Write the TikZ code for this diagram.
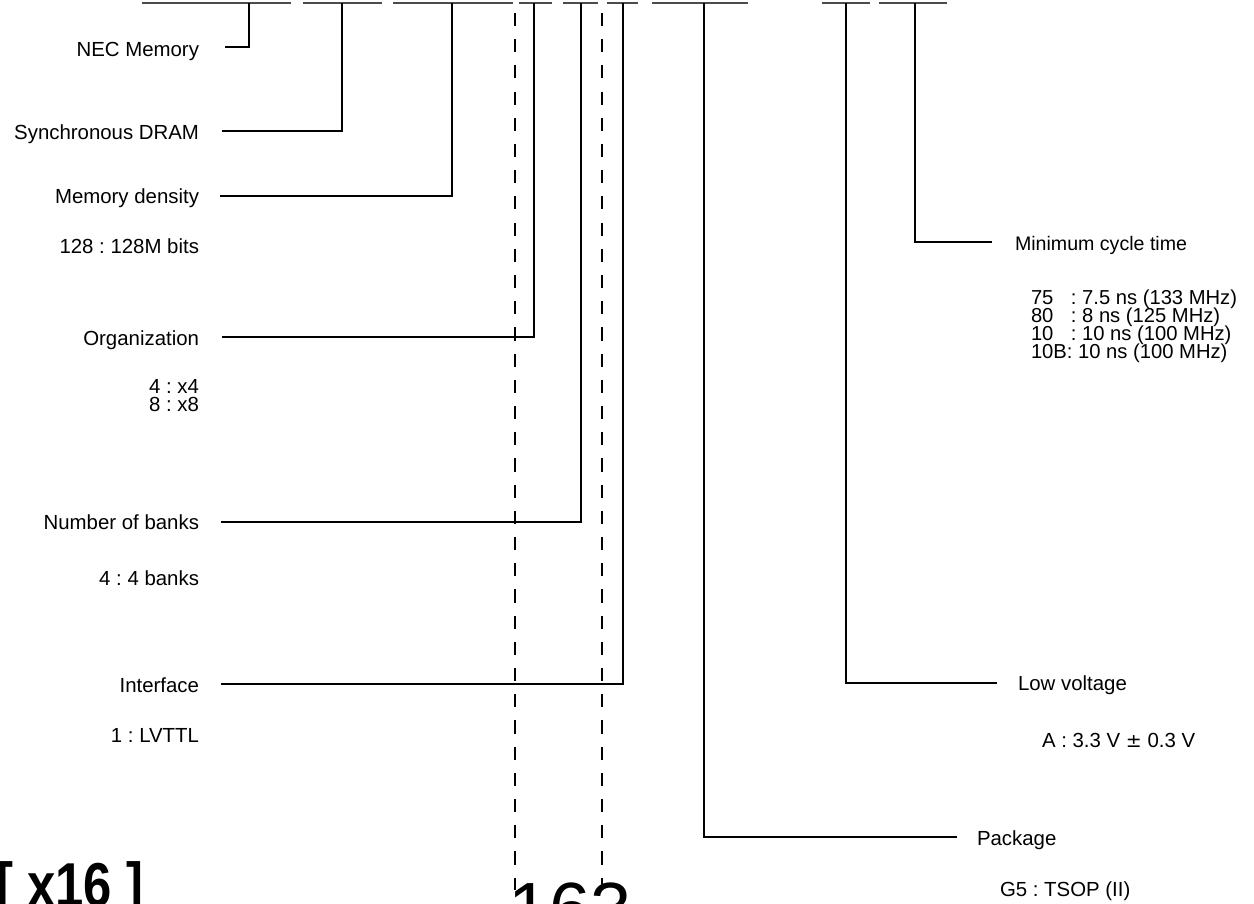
\documentclass[tikz,border=0pt]{standalone}
\usepackage{fontspec}
\setmainfont{Liberation Sans}
\usepackage{calc}
\begin{document}
\frenchspacing
\begin{tikzpicture}[x=0.5pt,y=-0.5pt,
  lbl/.style={inner sep=0pt,outer sep=0pt,font=\fontsize{10.2}{12}\selectfont\frenchspacing},
  lst/.style={inner sep=0pt,outer sep=0pt,font=\fontsize{10.1}{12}\selectfont\frenchspacing},
  conn/.style={line width=0.6pt,black},
  bar/.style={line width=0.9pt,black!70},
  dashline/.style={line width=0.55pt,black,dash pattern=on 6.55pt off 6.55pt}]
\useasboundingbox (0,0) rectangle (1254,904);

% top bars (under the part number characters)
\draw[bar] (142,3) -- (291,3);
\draw[bar] (303,3) -- (382,3);
\draw[bar] (393,3) -- (513,3);
\draw[bar] (519,3) -- (552,3);
\draw[bar] (563,3) -- (598,3);
\draw[bar] (607,3) -- (638,3);
\draw[bar] (652,3) -- (748,3);
\draw[bar] (822,3) -- (870,3);
\draw[bar] (879,3) -- (947,3);

% junction points on the bars
\coordinate (tNEC) at (249,3);
\coordinate (tSYN) at (342,3);
\coordinate (tDEN) at (452,3);
\coordinate (tORG) at (534,3);
\coordinate (tBNK) at (581,3);
\coordinate (tIF)  at (623,3);
\coordinate (tPKG) at (704,3);
\coordinate (tLV)  at (846,3);
\coordinate (tCYC) at (915,3);

% line ends near labels
\coordinate (sNEC) at (225,47);
\coordinate (sSYN) at (222,131);
\coordinate (sDEN) at (220,196);
\coordinate (sORG) at (222,337);
\coordinate (sBNK) at (221,522);
\coordinate (sIF)  at (221,684);
\coordinate (sPKG) at (957,837);
\coordinate (sLV)  at (997,683);
\coordinate (sCYC) at (992,242);

% dashed guide lines
\coordinate (dA1) at (515,13);
\coordinate (dA2) at (515,890);
\coordinate (dB1) at (602,13);
\coordinate (dB2) at (602,890);
\draw[dashline] (dA1) -- (dA2);
\draw[dashline] (dB1) -- (dB2);

% left labels
\node[lbl,anchor=base east] (nec) at (199,57) {NEC Memory};
\node[lbl,anchor=base east] (syn) at (199,140) {Synchronous DRAM};
\node[lbl,anchor=base east] (den) at (199,204) {Memory density};
\node[lbl,anchor=base east] (denv) at (199,253) {128 : 128M bits};
\node[lbl,anchor=base east] (org) at (199,345) {Organization};
\node[lbl,anchor=base east] (orgv1) at (199,393) {4 : x4};
\node[lbl,anchor=base east] (orgv2) at (199,411) {8 : x8};
\node[lbl,anchor=base east] (bnk) at (199,529) {Number of banks};
\node[lbl,anchor=base east] (bnkv) at (199,585) {4 : 4 banks};
\node[lbl,anchor=base east] (itf) at (199,692) {Interface};
\node[lbl,anchor=base east] (itfv) at (199,742) {1 : LVTTL};

% right labels
\node[lbl,anchor=base west,font=\fontsize{9.8}{12}\selectfont] (cyc) at (1015,250) {Minimum cycle time};
\node[lst,anchor=base west] (cycv1) at (1031,304) {\makebox[\widthof{10B}][l]{75}\hspace{2pt}: 7.5 ns (133 MHz)};
\node[lst,anchor=base west] (cycv2) at (1031,322) {\makebox[\widthof{10B}][l]{80}\hspace{2pt}: 8 ns (125 MHz)};
\node[lst,anchor=base west] (cycv3) at (1031,340) {\makebox[\widthof{10B}][l]{10}\hspace{2pt}: 10 ns (100 MHz)};
\node[lst,anchor=base west] (cycv4) at (1031,358) {10B: 10 ns (100 MHz)};
\node[lbl,anchor=base west] (lv) at (1018,690) {Low voltage};
\node[lbl,anchor=base west] (lvv) at (1042,747) {A : 3.3 V {\fontspec{DejaVu Sans}\fontsize{9.5}{12}\selectfont ±} 0.3 V};
\node[lbl,anchor=base west] (pkg) at (977,845) {Package};
\node[lbl,anchor=base west] (pkgv) at (1000,896) {G5 : TSOP (II)};

% connectors
\draw[conn] (sNEC) -| (tNEC);
\draw[conn] (sSYN) -| (tSYN);
\draw[conn] (sDEN) -| (tDEN);
\draw[conn] (sORG) -| (tORG);
\draw[conn] (sBNK) -| (tBNK);
\draw[conn] (sIF)  -| (tIF);
\draw[conn] (sPKG) -| (tPKG);
\draw[conn] (sLV)  -| (tLV);
\draw[conn] (sCYC) -| (tCYC);

% bottom large texts (cut by the page edge)
\node[inner sep=0pt,anchor=base west,xscale=0.82,font=\fontsize{31}{36}\selectfont\bfseries] (x16) at (-4,906) {[ x16 ]};
\node[inner sep=0pt,anchor=base west,font=\fontsize{37}{42}\selectfont] (n163) at (508,934) {163};
\end{tikzpicture}
\end{document}
